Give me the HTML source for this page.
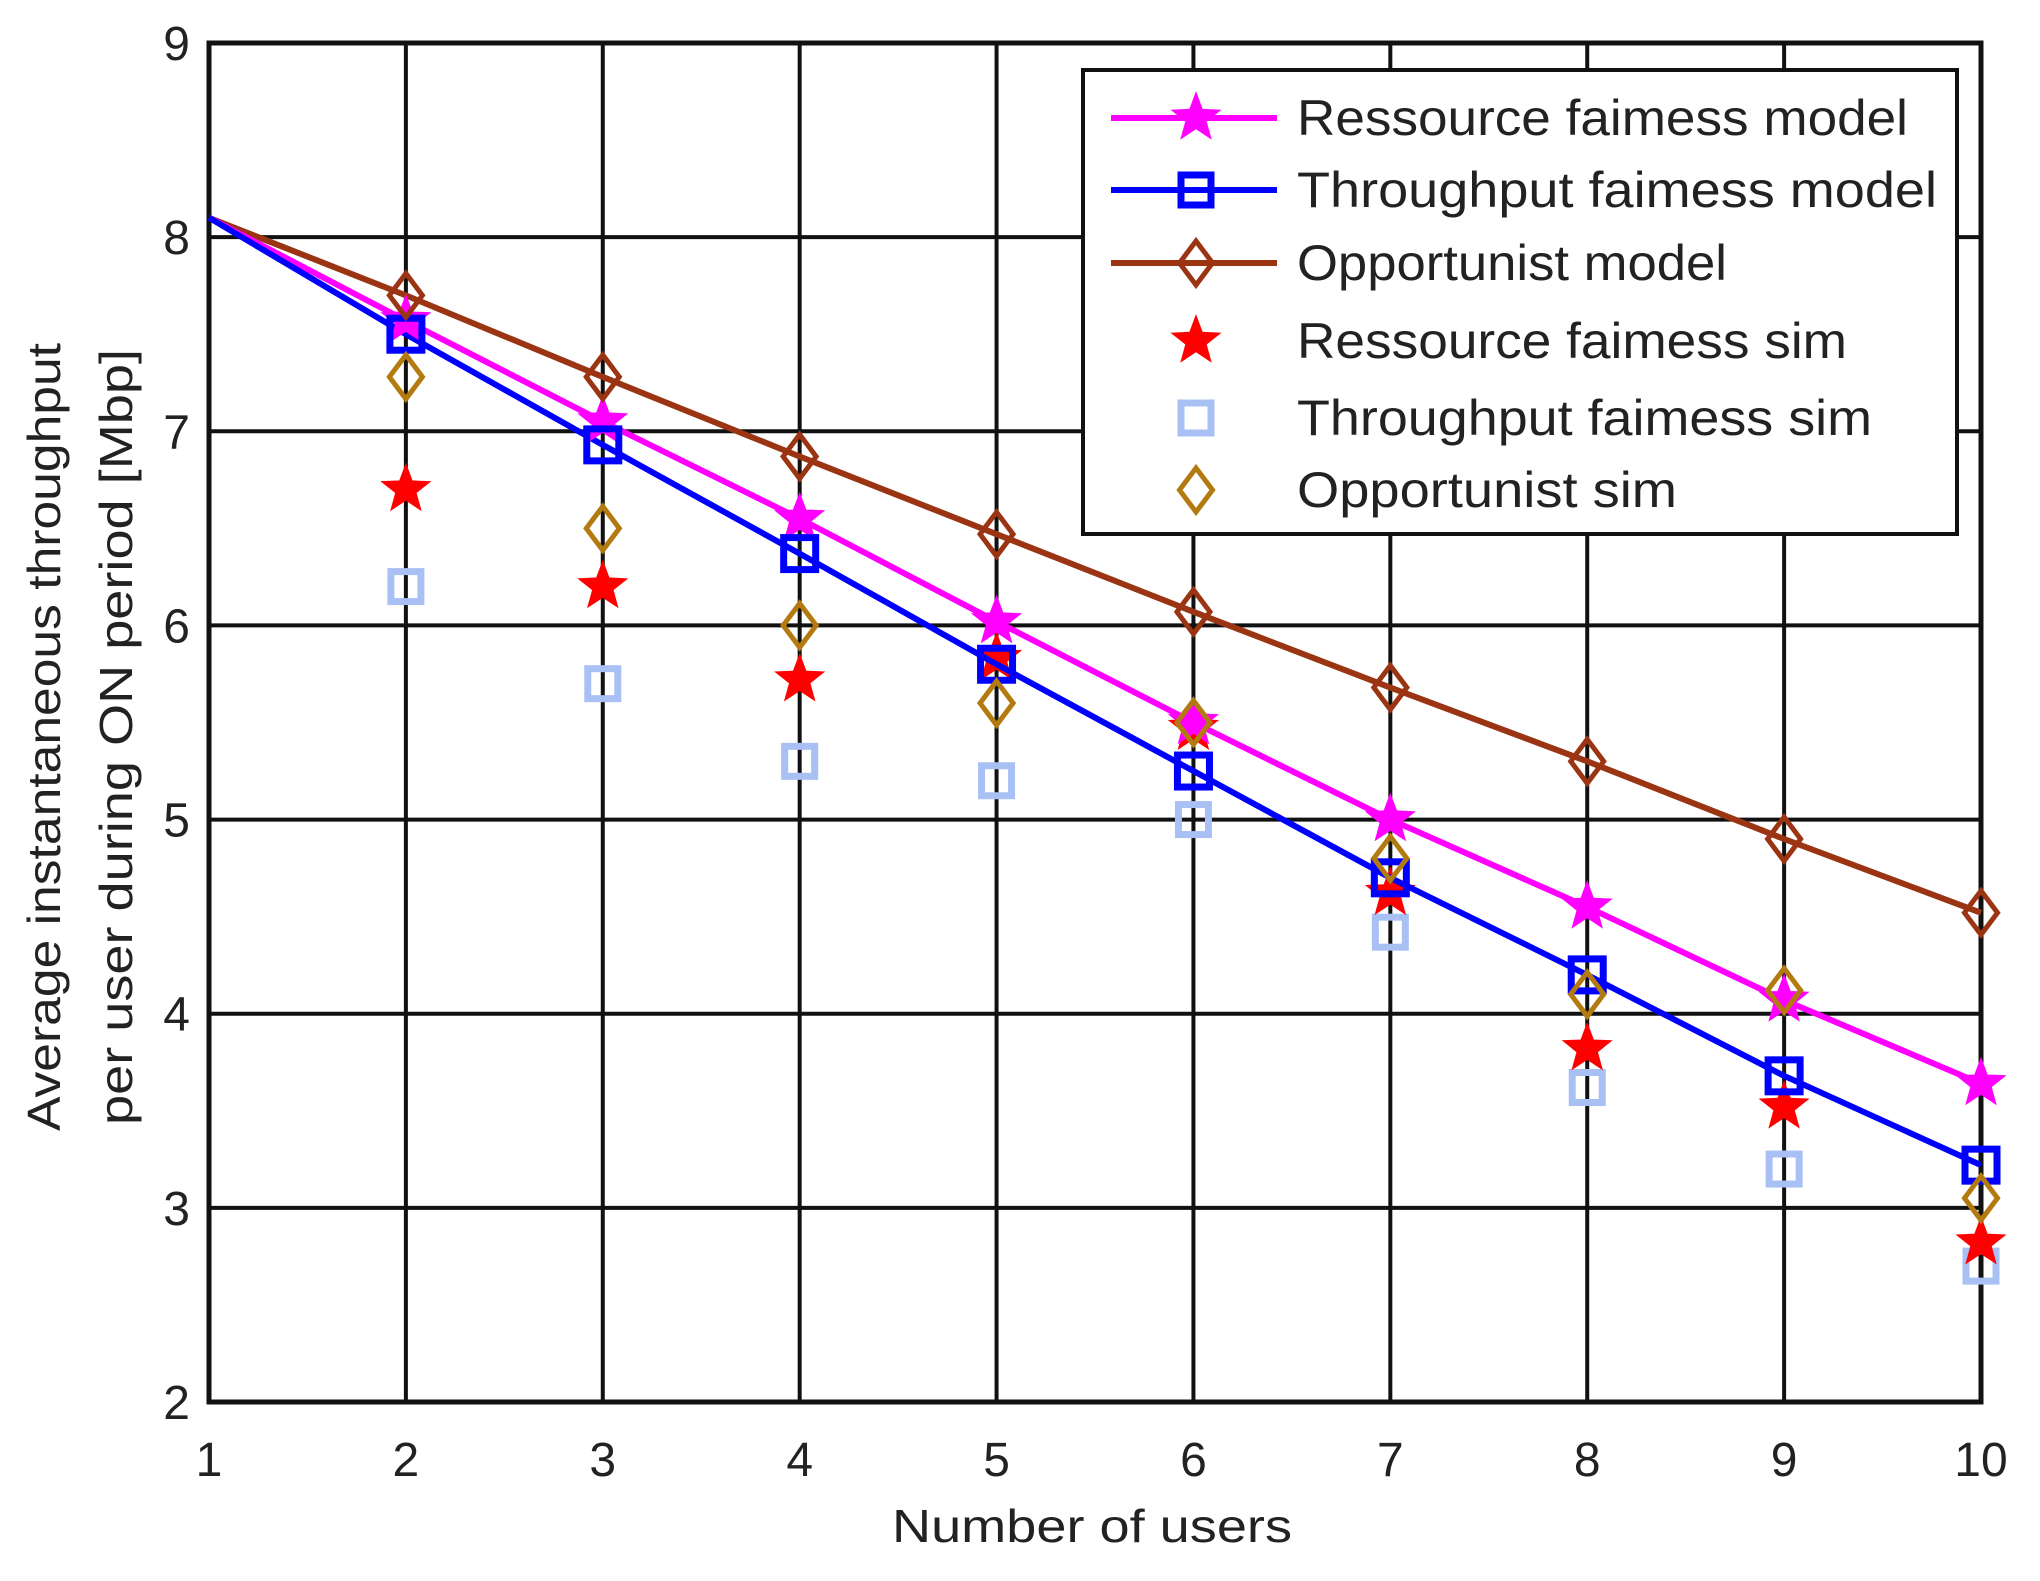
<!DOCTYPE html>
<html><head><meta charset="utf-8"><style>
html,body{margin:0;padding:0;background:#fff;}
svg{display:block;font-family:"Liberation Sans",Arial,sans-serif;}
</style></head><body>
<svg id="s" width="2040" height="1581" xmlns="http://www.w3.org/2000/svg"></svg>
<script>
const X0=209,X1=1981,Y0=43,Y1=1402;
const px=x=>X0+(x-1)*(X1-X0)/9, py=y=>Y1-(y-2)*(Y1-Y0)/7;
let o='';
for(let i=2;i<=9;i++)o+=`<line x1="${px(i)}" y1="${Y0}" x2="${px(i)}" y2="${Y1}" stroke="#111" stroke-width="4"/>`;
for(let j=3;j<=8;j++)o+=`<line x1="${X0}" y1="${py(j)}" x2="${X1}" y2="${py(j)}" stroke="#111" stroke-width="4"/>`;
o+=`<rect x="${X0}" y="${Y0}" width="${X1-X0}" height="${Y1-Y0}" fill="none" stroke="#111" stroke-width="5"/>`;
for(let j=2;j<=9;j++)o+=`<text x="190" y="${py(j)+17}" font-size="48" text-anchor="end" fill="#222">${j}</text>`;
for(let i=1;i<=10;i++)o+=`<text x="${px(i)}" y="1476" font-size="48" text-anchor="middle" fill="#222">${i}</text>`;
o+=`<text x="1092" y="1542" font-size="46" text-anchor="middle" fill="#222" textLength="400" lengthAdjust="spacingAndGlyphs">Number of  users</text>`;
o+=`<text transform="translate(60,737) rotate(-90)" font-size="46" text-anchor="middle" fill="#222" textLength="788" lengthAdjust="spacingAndGlyphs">Average instantaneous throughput</text>`;
o+=`<text transform="translate(132,737) rotate(-90)" font-size="46" text-anchor="middle" fill="#222" textLength="776" lengthAdjust="spacingAndGlyphs">per user during ON period [Mbp]</text>`;
function star(x,y,c,r){let p=[];for(let k=0;k<10;k++){const a=-Math.PI/2+k*Math.PI/5,rr=k%2?r*0.42:r;p.push((x+rr*Math.cos(a)).toFixed(1)+','+(y+rr*Math.sin(a)).toFixed(1));}return `<polygon points="${p.join(' ')}" fill="${c}" stroke="${c}" stroke-width="2"/>`;}
function sq(x,y,c,s){return `<rect x="${x-s/2}" y="${y-s/2}" width="${s}" height="${s}" fill="none" stroke="${c}" stroke-width="7"/>`;}
function dia(x,y,c,s){return `<polygon points="${x},${y-s} ${x+s*0.75},${y} ${x},${y+s} ${x-s*0.75},${y}" fill="none" stroke="${c}" stroke-width="5"/>`;}
const RM=[8.1,7.57,7.05,6.55,6.02,5.5,5.0,4.55,4.07,3.64],
TM=[8.1,7.5,6.93,6.37,5.8,5.25,4.7,4.2,3.68,3.22],
OM=[8.1,7.7,7.28,6.87,6.47,6.07,5.68,5.3,4.9,4.52],
RS=[null,6.7,6.2,5.72,5.83,5.47,4.62,3.82,3.52,2.82],
TS=[null,6.2,5.7,5.3,5.2,5.0,4.42,3.62,3.2,2.7],
OS=[null,7.28,6.5,6.0,5.6,5.5,4.8,4.1,4.12,3.05];
const line=(d,c)=>`<polyline points="${d.map((v,i)=>px(i+1)+','+py(v)).join(' ')}" fill="none" stroke="${c}" stroke-width="6"/>`;
const BR='#9a3412',MG='#ff00ff',BL='#0000ff',RD='#ff0000',LB='#a9c0f5',GD='#b37a10';
TS.forEach((v,i)=>{if(v)o+=sq(px(i+1),py(v),LB,30);});
RS.forEach((v,i)=>{if(v)o+=star(px(i+1),py(v),RD,24);});
o+=line(OM,BR)+line(RM,MG)+line(TM,BL);
RM.forEach((v,i)=>{if(i)o+=star(px(i+1),py(v),MG,24);});
TM.forEach((v,i)=>{if(i)o+=sq(px(i+1),py(v),BL,32);});
OM.forEach((v,i)=>{if(i)o+=dia(px(i+1),py(v),BR,22);});
OS.forEach((v,i)=>{if(v)o+=dia(px(i+1),py(v),GD,22);});
o+=`<rect x="1083" y="70" width="874" height="464" fill="#fff" stroke="#111" stroke-width="4"/>`;
const L=[['Ressource faimess model',118,'s',MG,1],['Throughput  faimess model',190,'q',BL,1],['Opportunist model',263,'d',BR,1],['Ressource faimess sim',341,'s',RD,0],['Throughput  faimess sim',418,'q',LB,0],['Opportunist sim',490,'d',GD,0]];
const TL=[611,640,430,550,575,380];
L.forEach((e,k)=>{const [t,y,m,c,ln]=e;
 if(ln)o+=`<line x1="1111" y1="${y}" x2="1277" y2="${y}" stroke="${c}" stroke-width="6"/>`;
 o+= m=='s'?star(1196,y,c,24):m=='q'?sq(1196,y,c,30):dia(1196,y,c,22);
 o+=`<text x="1297" y="${y+17}" font-size="50" fill="#222" textLength="${TL[k]}" lengthAdjust="spacingAndGlyphs">${t}</text>`;});
document.getElementById('s').innerHTML=o;
</script>
</body></html>
